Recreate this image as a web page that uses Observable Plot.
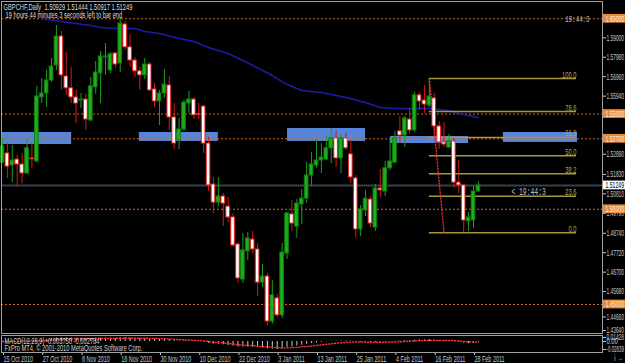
<!DOCTYPE html>
<html><head><meta charset="utf-8">
<script src="https://cdn.jsdelivr.net/npm/d3@7"></script>
<script src="https://cdn.jsdelivr.net/npm/@observablehq/plot@0.6"></script>
<style>
html,body{margin:0;padding:0;background:#000;}
#chart{width:625px;height:363px;overflow:hidden;background:#000;}
#chart svg{display:block;overflow:visible;}
</style></head><body><div id="chart"></div>
<script>
// ---------- data ----------
const symbol = "GBPCHF", period = "Daily";
const opens = [1.5245,1.5293,1.5230,1.5261,1.5235,1.5188,1.5267,1.5251,1.5587,1.5608,
1.5676,1.5755,1.5907,1.5697,1.5635,1.5587,1.5571,1.5576,1.5466,1.5640,
1.5713,1.5797,1.5729,1.5818,1.5765,1.5970,1.5850,1.5781,1.5724,1.5703,
1.5760,1.5629,1.5566,1.5608,1.5650,1.5482,1.5361,1.5419,1.5555,1.5576,
1.5500,1.5539,1.5345,1.5130,1.5035,1.5067,1.5014,1.4957,1.4815,1.4631,
1.4779,1.4841,1.4789,1.4615,1.4647,1.4411,1.4532,1.4443,1.4768,1.4973,
1.4909,1.5025,1.5056,1.5177,1.5230,1.5256,1.5261,1.5320,1.5372,1.5267,
1.5372,1.5288,1.5162,1.4894,1.4994,1.5051,1.4904,1.5109,1.5093,1.5215,
1.5245,1.5409,1.5387,1.5471,1.5414,1.5598,1.5571,1.5545,1.5582,1.5435,
1.5351,1.5324,1.5356,1.5140,1.5125,1.4936,1.4941,1.50929];
const highs = [1.5372,1.5345,1.5335,1.5283,1.5293,1.5366,1.5345,1.5645,1.5687,1.5729,
1.5792,1.5965,1.5934,1.5823,1.5745,1.5624,1.5608,1.5603,1.5692,1.5776,
1.5829,1.5870,1.5823,1.5823,1.6002,1.5986,1.5918,1.5797,1.5745,1.5792,
1.5770,1.5660,1.5624,1.5734,1.5697,1.5555,1.5477,1.5571,1.5619,1.5587,
1.5555,1.5545,1.5377,1.5167,1.5167,1.5083,1.5062,1.4978,1.4826,1.4873,
1.4878,1.4883,1.4820,1.4710,1.4663,1.4626,1.4553,1.4820,1.4983,1.5046,
1.5051,1.5104,1.5245,1.5298,1.5366,1.5345,1.5387,1.5425,1.5409,1.5393,
1.5398,1.5361,1.5177,1.5020,1.5099,1.5067,1.5130,1.5209,1.5251,1.5372,
1.5409,1.5487,1.5487,1.5529,1.5613,1.5613,1.5650,1.5686,1.5608,1.5461,
1.5456,1.5393,1.5372,1.5256,1.5130,1.4983,1.5119,1.51444];
const lows = [1.5240,1.5162,1.5140,1.5119,1.5135,1.5183,1.5215,1.5245,1.5555,1.5534,
1.5665,1.5729,1.5624,1.5598,1.5555,1.5450,1.5529,1.5414,1.5461,1.5603,
1.5555,1.5703,1.5713,1.5739,1.5718,1.5834,1.5745,1.5692,1.5624,1.5681,
1.5619,1.5534,1.5440,1.5582,1.5414,1.5314,1.5314,1.5409,1.5503,1.5471,
1.5471,1.5293,1.5094,1.4978,1.5014,1.4909,1.4930,1.4799,1.4610,1.4610,
1.4731,1.4768,1.4542,1.4590,1.4390,1.4395,1.4432,1.4427,1.4736,1.4883,
1.4847,1.4920,1.5030,1.5119,1.5215,1.5188,1.5256,1.5240,1.5220,1.5188,
1.5309,1.5135,1.4852,1.4857,1.4962,1.4904,1.4883,1.5062,1.5067,1.5204,
1.5240,1.5345,1.5324,1.5393,1.5403,1.5519,1.5503,1.5534,1.5382,1.5314,
1.5324,1.5319,1.5109,1.5083,1.4877,1.4883,1.4899,1.50917];
const closes = [1.5330,1.5224,1.5256,1.5235,1.5188,1.5320,1.5262,1.5592,1.5608,1.5676,
1.5749,1.5907,1.5703,1.5635,1.5587,1.5555,1.5576,1.5471,1.5645,1.5718,
1.5802,1.5802,1.5813,1.5760,1.5975,1.5850,1.5781,1.5724,1.5703,1.5760,
1.5624,1.5566,1.5608,1.5655,1.5482,1.5345,1.5419,1.5560,1.5576,1.5493,
1.5495,1.5345,1.5125,1.5035,1.5067,1.5030,1.4957,1.4810,1.4637,1.4784,
1.4847,1.4789,1.4615,1.4647,1.4411,1.4548,1.4443,1.4773,1.4978,1.4925,
1.5030,1.5056,1.5177,1.5235,1.5256,1.5272,1.5320,1.5372,1.5267,1.5372,
1.5320,1.5167,1.4894,1.4999,1.5056,1.4925,1.5109,1.5099,1.5215,1.5251,
1.5372,1.5387,1.5477,1.5414,1.5598,1.5566,1.5550,1.5592,1.5435,1.5351,
1.5340,1.5356,1.5140,1.5125,1.4941,1.4957,1.5093,1.51249];

// moving average read at sampled bars
const maIndex = [8,12,15,18,20,23,27,29,32,36,39,42,46,49,51,55,58,61,65,68,70,74,77,80,84,87,91,93,97];
const maValue = [1.60014,1.59856,1.59751,1.59646,1.59541,1.59488,1.59488,1.59331,1.59226,1.58963,
1.58806,1.58491,1.58175,1.57808,1.57545,1.57020,1.56547,1.56232,1.56127,1.55970,
1.55864,1.55602,1.55339,1.55287,1.55287,1.55287,1.55182,1.55024,1.54814];

// horizontal lines and zones
const hlinePrices = [1.6000, 1.5500, 1.5370, 1.5000, 1.4500];
const zoneStart = [-0.2, 27.9, 58.1, 79.1, 102.1];
const zoneEnd   = [14.1, 44.0, 74.0, 95.0, 117.2];
const zoneHigh  = [1.5403, 1.5403, 1.5424, 1.5382, 1.5403];
const zoneLow   = [1.5340, 1.5356, 1.5356, 1.5345, 1.5351];

// fibonacci
const fibHighIndex = 87, fibHighPrice = 1.5686;
const fibLowIndex = 90, fibLowPrice = 1.4877;
const fibEndIndex = 117;
const fibLevels = [0, 23.6, 38.2, 50.0, 61.8, 78.6, 100.0];

// axes (labels fully hidden behind the line labels are left out)
const priceTicks = [1.59000,1.57980,1.56960,1.55940,1.52890,1.51830,1.50810,1.49790,1.48740,1.47720,1.46700,1.45680,1.43640];
const pushedTick = [1.44660]; // MT4 pushes this one down below the 1.45000 label
const dateTickIndex = [0,8,16,24,32,40,48,56,64,72,80,88,96];
const dateLabels = ["15 Oct 2010","27 Oct 2010","8 Nov 2010","18 Nov 2010","30 Nov 2010","10 Dec 2010","22 Dec 2010","3 Jan 2011","13 Jan 2011","25 Jan 2011","4 Feb 2011","16 Feb 2011","28 Feb 2011"];

// MACD
const macdHist = [0.000,0.000,0.001,0.001,0.001,0.002,0.002,0.004,0.006,0.008,
0.010,0.012,0.013,0.013,0.013,0.012,0.012,0.010,0.011,0.011,
0.012,0.012,0.012,0.011,0.014,0.014,0.013,0.012,0.011,0.011,
0.010,0.008,0.008,0.008,0.006,0.003,0.002,0.002,0.002,0.001,
0.000,-0.002,-0.006,-0.009,-0.010,-0.012,-0.014,-0.017,-0.020,-0.020,
-0.020,-0.020,-0.022,-0.023,-0.026,-0.027,-0.028,-0.025,-0.021,-0.019,
-0.016,-0.013,-0.010,-0.007,-0.005,-0.003,-0.001,0.001,0.001,0.002,
0.002,0.001,-0.002,-0.003,-0.003,-0.004,-0.003,-0.003,-0.002,-0.001,
0.001,0.002,0.003,0.003,0.005,0.006,0.006,0.007,0.006,0.004,
0.003,0.002,-0.001,-0.003,-0.006,-0.008,-0.006,-0.00375];
const macdSignal = [0.000,0.000,0.000,0.000,0.001,0.001,0.001,0.002,0.002,0.003,
0.004,0.006,0.007,0.008,0.009,0.010,0.010,0.010,0.011,0.011,
0.011,0.011,0.011,0.011,0.012,0.012,0.012,0.012,0.012,0.012,
0.011,0.011,0.010,0.010,0.009,0.008,0.007,0.006,0.005,0.004,
0.003,0.002,0.000,-0.002,-0.004,-0.005,-0.007,-0.009,-0.011,-0.013,
-0.014,-0.015,-0.017,-0.018,-0.019,-0.021,-0.022,-0.023,-0.023,-0.022,
-0.021,-0.019,-0.018,-0.016,-0.014,-0.012,-0.010,-0.008,-0.006,-0.005,
-0.003,-0.002,-0.002,-0.002,-0.002,-0.003,-0.003,-0.003,-0.003,-0.002,
-0.002,-0.001,0.000,0.001,0.002,0.003,0.003,0.004,0.004,0.004,
0.004,0.004,0.003,0.002,0.000,-0.001,-0.002,-0.002784];
const macdTicks = [0.01428, 0, -0.02839];

// ---------- build ----------
const xDomain = [-0.2, 122.3];
const yDomain = [1.43478, 1.60907];
const candles = opens.map((o, i) => ({i, open: o, high: highs[i], low: lows[i], close: closes[i], up: closes[i] >= o}));
const last = candles[candles.length - 1];
const ma = maIndex.map((i, k) => ({i, v: maValue[k]}));
const zones = zoneStart.map((s, k) => ({x1: s, x2: zoneEnd[k], hi: zoneHigh[k], lo: zoneLow[k]}));
const fib = fibLevels.map(l => ({level: l, price: fibLowPrice + (fibHighPrice - fibLowPrice) * l / 100}));
const hw = 0.37;
const fmt5 = d => d.toFixed(5);

const font = "Liberation Sans, Arial, sans-serif";
const main = Plot.plot({
  width: 625, height: 334,
  marginTop: 1, marginBottom: 1, marginLeft: 1, marginRight: 23,
  style: {background: "#000", color: "#c8c8c8", fontFamily: font, fontSize: "9px", overflow: "visible"},
  x: {domain: xDomain, axis: null},
  y: {domain: yDomain, axis: null},
  marks: [
    Plot.rect(zones, {x1: "x1", x2: "x2", y1: "lo", y2: "hi", fill: "#5684d8", clip: true}),
    Plot.ruleY(hlinePrices, {y: d => d, stroke: "#d86a1c", strokeDasharray: "2,2"}),
    Plot.ruleY([last.close], {stroke: "#36414d", strokeWidth: 2}),
    Plot.line(ma, {x: "i", y: "v", stroke: "#1c1caa", strokeWidth: 1.5}),
    Plot.ruleY(fib, {y: "price", x1: fibHighIndex, x2: fibEndIndex, stroke: "#a8983c", strokeWidth: 1.5}),
    Plot.line([{i: fibHighIndex, p: fibHighPrice}, {i: fibLowIndex, p: fibLowPrice}], {x: "i", y: "p", stroke: "#d03030", strokeDasharray: "1,2"}),
    Plot.ruleX(candles, {x: "i", y1: "low", y2: "high", stroke: d => d.up ? "#19a019" : "#d81818", strokeWidth: 1}),
    Plot.rect(candles, {x1: d => d.i - hw, x2: d => d.i + hw, y1: "open", y2: "close",
      fill: d => d.up ? "#1fae1f" : "#ffffff", stroke: d => d.up ? "#0d800d" : "#ee2020", strokeWidth: 1}),
    Plot.text(fib, {x: fibEndIndex, y: "price", text: d => d.level.toFixed(1), textAnchor: "end", lineAnchor: "bottom", dy: -1, fill: "#b8a848"}),
    Plot.text([`${symbol},${period}  ${fmt5(last.open)} ${fmt5(last.high)} ${fmt5(last.low)} ${fmt5(last.close)}`],
      {text: d => d, frameAnchor: "top-left", dx: 2, dy: 6, lineAnchor: "middle", textAnchor: "start", fill: "#dcdcdc"}),
    Plot.text(["19 hours 44 minutes 3 seconds left to bar end"],
      {text: d => d, frameAnchor: "top-left", dx: 4, dy: 14, lineAnchor: "middle", textAnchor: "start", fill: "#dcdcdc"}),
    Plot.text([last], {x: "i", y: "close", text: () => "< 19:44:3", dx: 33, dy: 2, lineAnchor: "top", textAnchor: "start",
      fontFamily: "Liberation Mono, monospace", fontSize: 10, fill: "#c0c0c0"}),
    Plot.text([hlinePrices[0]], {x: xDomain[1], y: d => d, text: () => "19:44:3", dx: -13, textAnchor: "end", lineAnchor: "middle",
      fontFamily: "Liberation Mono, monospace", fontSize: 9, fill: "#c0c0c0"}),
    Plot.axisY({anchor: "right", ticks: priceTicks, tickFormat: fmt5, tickSize: 3, tickPadding: 1}),
    Plot.axisY({anchor: "right", ticks: pushedTick, tickFormat: fmt5, tickSize: 3, tickPadding: 1, dy: 6}),
    Plot.rect(hlinePrices, {x1: xDomain[1], x2: xDomain[1] + 6, y1: d => d - 0.0023, y2: d => d + 0.0023, fill: "#e88a3a", clip: false}),
    Plot.text(hlinePrices, {x: xDomain[1], y: d => d, text: fmt5, dx: 3, textAnchor: "start", fill: "#fff3e0", clip: false}),
    Plot.rect([last.close], {x1: xDomain[1], x2: xDomain[1] + 6, y1: d => d - 0.0023, y2: d => d + 0.0023, fill: "#ffffff", clip: false}),
    Plot.text([last.close], {x: xDomain[1], y: d => d, text: fmt5, dx: 3, textAnchor: "start", fill: "#000000", clip: false}),
    Plot.frame({stroke: "#a0a0a0"})
  ]
});

const bars = macdHist.map((v, i) => ({i, v, s: macdSignal[i]}));
const macd = Plot.plot({
  width: 625, height: 29,
  marginTop: 1, marginBottom: 11, marginLeft: 1, marginRight: 23,
  style: {background: "transparent", color: "#c8c8c8", fontFamily: font, fontSize: "9px", overflow: "visible"},
  x: {domain: xDomain, axis: null},
  y: {domain: [-0.0392, 0.0214], axis: null},
  marks: [
    Plot.ruleX(bars, {x: "i", y1: 0, y2: "v", stroke: "#c8c8c8", strokeWidth: 1}),
    Plot.line(bars, {x: "i", y: "s", stroke: "#ff3030", strokeDasharray: "1,2"}),
    Plot.text(["MACD(12,26,9) -0.003750 -0.002784"], {text: d => d, frameAnchor: "top-left", dx: 3, dy: 5.5, lineAnchor: "middle", textAnchor: "start", fill: "#d0d0d0"}),
    Plot.text(["FxPro MT4, © 2001-2010 MetaQuotes Software Corp."], {text: d => d, frameAnchor: "top-left", dx: 3, dy: 12.5, lineAnchor: "middle", textAnchor: "start", fill: "#d0d0d0"}),
    Plot.axisY({anchor: "right", ticks: macdTicks, tickFormat: d => d === 0 ? "0.00" : d.toFixed(5), tickSize: 3, tickPadding: 1}),
    Plot.axisX({anchor: "bottom", ticks: dateTickIndex, tickFormat: d => dateLabels[dateTickIndex.indexOf(d)], tickSize: 3, tickPadding: 0, textAnchor: "start", dx: 1, fontSize: 8.5}),
    Plot.frame({stroke: "#a0a0a0"})
  ]
});

const root = document.getElementById("chart");
root.append(main, macd);
// MT4 screen text is narrow: squeeze each text horizontally about its anchor,
// and keep the right-hand labels inside the window
const NS = "http://www.w3.org/2000/svg";
const rootLeft = root.getBoundingClientRect().left;
for (const t of Array.from(root.querySelectorAll("svg text"))) {
  const r = t.getBoundingClientRect();
  if (!(r.width > 0)) continue;
  const anchor = getComputedStyle(t).textAnchor;
  const ax = anchor === "end" ? r.right : anchor === "middle" ? (r.left + r.right) / 2 : r.left;
  let k = 0.64;
  if (anchor === "start") k = Math.min(k, (rootLeft + 624 - r.left) / r.width);
  const svg = t.ownerSVGElement;
  const pt = svg.createSVGPoint(); pt.x = ax; pt.y = r.top;
  const local = pt.matrixTransform(t.parentNode.getScreenCTM().inverse());
  const g = document.createElementNS(NS, "g");
  g.setAttribute("transform", `translate(${local.x.toFixed(2)},0) scale(${k.toFixed(4)},1) translate(${(-local.x).toFixed(2)},0)`);
  t.parentNode.insertBefore(g, t);
  g.appendChild(t);
}
</script>
</body></html>
